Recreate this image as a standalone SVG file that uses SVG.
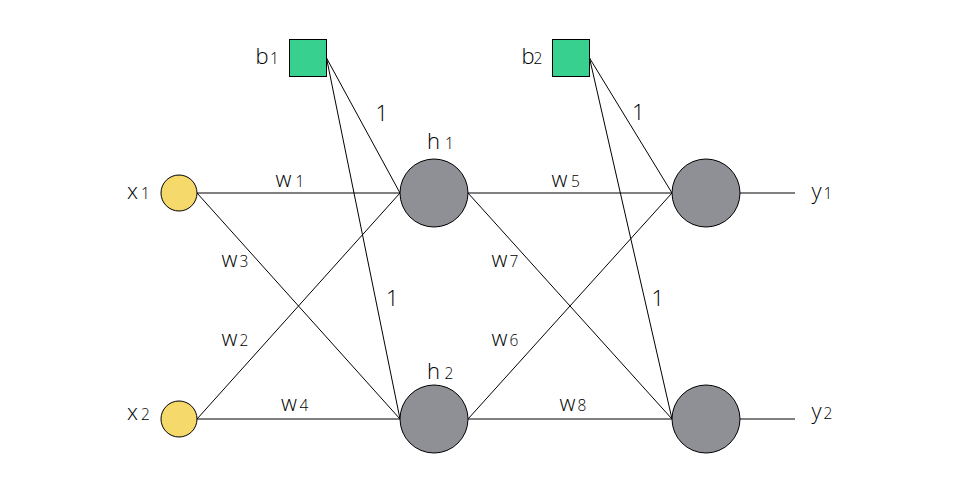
<svg xmlns="http://www.w3.org/2000/svg" width="960" height="491" viewBox="0 0 960 491">
<style>
.e{stroke:#000;stroke-width:1;fill:none}
.in{fill:#F5D96B;stroke:#000;stroke-width:1}
.hid{fill:#8E9096;stroke:#000;stroke-width:1}
.bias{fill:#37D08E;stroke:#000;stroke-width:1}
text{font-family:"Open Sans","Liberation Sans",sans-serif;font-weight:300;font-size:22px;fill:#000}
.s{font-size:15.5px}
</style>
<rect width="960" height="491" fill="#fff"/>
<g id="connectors">
<line class="e" x1="197" y1="193" x2="400" y2="193"/>
<line class="e" x1="197" y1="193" x2="400" y2="419"/>
<line class="e" x1="197" y1="419" x2="400" y2="193"/>
<line class="e" x1="197" y1="419" x2="400" y2="419"/>
<line class="e" x1="326.5" y1="58" x2="400" y2="193"/>
<line class="e" x1="326.5" y1="58" x2="400" y2="419"/>
<line class="e" x1="468" y1="193" x2="672" y2="193"/>
<line class="e" x1="468" y1="193" x2="672" y2="419"/>
<line class="e" x1="468" y1="419" x2="672" y2="193"/>
<line class="e" x1="468" y1="419" x2="672" y2="419"/>
<line class="e" x1="589.5" y1="58" x2="672" y2="193"/>
<line class="e" x1="589.5" y1="58" x2="672" y2="419"/>
<line class="e" x1="740" y1="193" x2="795" y2="193"/>
<line class="e" x1="740" y1="419" x2="795" y2="419"/>
<text x="275.5" y="187">w<tspan class="s" x="295.5">1</tspan></text>
<text x="221.5" y="266.5">w<tspan class="s" x="239.5">3</tspan></text>
<text x="221.5" y="346">w<tspan class="s" x="239.5">2</tspan></text>
<text x="281" y="410.5">w<tspan class="s" x="299.5">4</tspan></text>
<text x="375.5" y="120.5">1</text>
<text x="386" y="306">1</text>
<text x="551.5" y="187">w<tspan class="s" x="571">5</tspan></text>
<text x="491.5" y="266.5">w<tspan class="s" x="509.5">7</tspan></text>
<text x="491.5" y="346">w<tspan class="s" x="509.5">6</tspan></text>
<text x="559.5" y="410.5">w<tspan class="s" x="577.5">8</tspan></text>
<text x="632" y="119.5">1</text>
<text x="651.5" y="305.5">1</text>
</g>
<g id="x1"><circle class="in" cx="179" cy="193" r="18"/><text x="127" y="199">x<tspan class="s" x="141">1</tspan></text></g>
<g id="x2"><circle class="in" cx="179" cy="419" r="18"/><text x="127" y="420">x<tspan class="s" x="141">2</tspan></text></g>
<g id="b1"><rect class="bias" x="289.5" y="39.5" width="37" height="37"/><text x="255.5" y="63.5">b<tspan class="s" x="270">1</tspan></text></g>
<g id="b2"><rect class="bias" x="552.5" y="39.5" width="37" height="37"/><text x="521.5" y="63.5">b<tspan class="s" x="533.5">2</tspan></text></g>
<g id="h1"><circle class="hid" cx="434" cy="193" r="34"/><text x="427" y="149">h<tspan class="s" x="445">1</tspan></text></g>
<g id="h2"><circle class="hid" cx="434" cy="419" r="34"/><text x="427" y="379">h<tspan class="s" x="444.5">2</tspan></text></g>
<g id="o1"><circle class="hid" cx="706" cy="193" r="34"/><text x="811.5" y="199">y<tspan class="s" x="823.5">1</tspan></text></g>
<g id="o2"><circle class="hid" cx="706" cy="419" r="34"/><text x="811.5" y="419">y<tspan class="s" x="823.5">2</tspan></text></g>
</svg>
